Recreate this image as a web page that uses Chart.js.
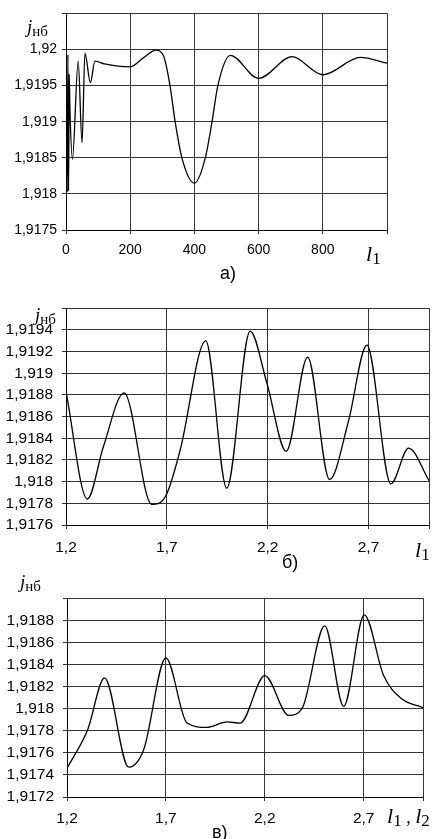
<!DOCTYPE html>
<html>
<head>
<meta charset="utf-8">
<script src="https://cdn.jsdelivr.net/npm/chart.js@4.4.1/dist/chart.umd.min.js"></script>
<style>
  html, body { margin: 0; padding: 0; background: #fff; }
  body { width: 440px; height: 839px; position: relative; overflow: hidden; }
  canvas { position: absolute; left: 0; }
  .lbl { position: absolute; font-family: "Liberation Serif", "Times New Roman", serif; color: #000; line-height: 1; white-space: nowrap; }
  .lbl i { font-size: 19px; }
  .lbl sub { font-size: 15px; vertical-align: baseline; position: relative; top: 3px; }
  .cap { position: absolute; font-family: "Liberation Sans", Arial, sans-serif; font-size: 18px; line-height: 1; color: #000; }
</style>
</head>
<body>
<canvas id="chartA" style="top:0px" width="440" height="262"></canvas>
<canvas id="chartB" style="top:290px" width="440" height="265"></canvas>
<canvas id="chartC" style="top:580px" width="440" height="247"></canvas>

<div class="lbl" style="left:27px; top:17px"><i>j</i><sub>нб</sub></div>
<div class="lbl" style="left:366px; top:243px"><i style="font-size:22px">l</i><sub style="font-size:17px">1</sub></div>
<div class="cap" style="left:220px; top:264px">а)</div>

<div class="lbl" style="left:35px; top:305px"><i>j</i><sub>нб</sub></div>
<div class="lbl" style="left:415px; top:539px"><i style="font-size:22px">l</i><sub style="font-size:17px">1</sub></div>
<div class="cap" style="left:282px; top:553px">б)</div>

<div class="lbl" style="left:20px; top:572px"><i>j</i><sub>нб</sub></div>
<div class="lbl" style="left:387px; top:805px"><i style="font-size:22px">l</i><sub style="font-size:17px">1</sub><span style="font-size:18px"> , </span><i style="font-size:22px">l</i><sub style="font-size:17px">2</sub></div>
<div class="cap" style="left:212px; top:823px">в)</div>

<script>
// a) j_нб against l1, 0..1000
var xA = [2, 4, 6, 8, 10, 12, 20, 38, 50, 59, 76, 90, 120, 200, 240, 280, 304, 324, 340, 361, 400, 434, 455, 473, 512, 600, 704, 800, 917, 1000];
var yA = [1.91857, 1.91803, 1.91993, 1.91804, 1.91966, 1.91922, 1.91848, 1.91984, 1.91871, 1.91995, 1.91954, 1.91984, 1.9198, 1.91976, 1.91988, 1.91999, 1.91991, 1.9195, 1.919, 1.9185, 1.91815, 1.9185, 1.919, 1.9195, 1.91992, 1.9196, 1.9199, 1.91965, 1.91989, 1.91981];
var xTicksA = [0, 200, 400, 600, 800, 1000];
var yTicksA = [1.9175, 1.918, 1.9185, 1.919, 1.9195, 1.92, 1.9205];

// б) j_нб against l1, 1.2..3.0
var xB = [1.2, 1.306, 1.385, 1.488, 1.625, 1.695, 1.766, 1.893, 1.997, 2.113, 2.196, 2.292, 2.398, 2.507, 2.601, 2.692, 2.811, 2.899, 3.0];
var yB = [1.91883, 1.91784, 1.91832, 1.91882, 1.91779, 1.91787, 1.91829, 1.9193, 1.91794, 1.91939, 1.91891, 1.91828, 1.91915, 1.91802, 1.91856, 1.91926, 1.91798, 1.91831, 1.91801];
var xTicksB = [1.2, 1.7, 2.2, 2.7, 3.0];
var yTicksB = [1.9176, 1.9178, 1.918, 1.9182, 1.9184, 1.9186, 1.9188, 1.919, 1.9192, 1.9194, 1.9196];

// в) j_нб against l1, l2
var xC = [1.2, 1.3045, 1.39, 1.512, 1.588, 1.7, 1.807, 1.908, 2.009, 2.076, 2.2, 2.321, 2.388, 2.503, 2.599, 2.703, 2.801, 2.885, 3.0];
var yC = [1.91746, 1.91781, 1.91828, 1.91747, 1.91763, 1.91846, 1.91787, 1.91783, 1.91788, 1.91787, 1.9183, 1.91794, 1.918, 1.91875, 1.91802, 1.91885, 1.9183, 1.9181, 1.91801];
var xTicksC = [1.2, 1.7, 2.2, 2.7, 3.0];
var yTicksC = [1.9172, 1.9174, 1.9176, 1.9178, 1.918, 1.9182, 1.9184, 1.9186, 1.9188, 1.919];

function fmt(v) {
  return String(+v.toFixed(5)).replace(".", ",");
}

function makeChart(id, xs, ys, xTicks, yTicks, o) {
  var points = xs.map(function (x, i) { return { x: x, y: ys[i] }; });
  var grid = { color: "#333", lineWidth: 1, tickLength: 4, drawTicks: true };
  var font = { family: "'Liberation Sans', Arial, sans-serif", size: o.fontSize };
  new Chart(document.getElementById(id), {
    type: "line",
    data: {
      datasets: [{
        data: points,
        borderColor: "#000",
        borderWidth: 1.3,
        pointRadius: 0,
        fill: false,
        cubicInterpolationMode: "monotone",
      }],
    },
    options: {
      responsive: false,
      animation: false,
      layout: { padding: { left: 0, right: o.right, top: o.top, bottom: 0 } },
      plugins: { legend: { display: false }, tooltip: { enabled: false } },
      scales: {
        x: {
          type: "linear",
          min: xTicks[0],
          max: xTicks[xTicks.length - 1],
          afterBuildTicks: function (s) { s.ticks = xTicks.map(function (v) { return { value: v }; }); },
          afterFit: function (s) { s.height = o.xh; },
          grid: grid,
          border: { display: true, color: "#000", width: 1 },
          ticks: {
            color: "#000", font: font, padding: o.xpad, maxRotation: 0, autoSkip: false,
            callback: function (v, i, t) { return i === t.length - 1 ? "" : fmt(v); },
          },
        },
        y: {
          type: "linear",
          min: yTicks[0],
          max: yTicks[yTicks.length - 1],
          afterBuildTicks: function (s) { s.ticks = yTicks.map(function (v) { return { value: v }; }); },
          afterFit: function (s) { s.width = o.yw; },
          grid: grid,
          border: { display: true, color: "#000", width: 1 },
          ticks: {
            color: "#000", font: font, padding: o.ypad, autoSkip: false,
            callback: function (v, i, t) { return i === t.length - 1 ? "" : fmt(v); },
          },
        },
      },
    },
  });
}

makeChart("chartA", xA, yA, xTicksA, yTicksA, { right: 53, top: 12, xh: 32, yw: 66, fontSize: 14, xpad: 8, ypad: 5 });
makeChart("chartB", xB, yB, xTicksB, yTicksB, { right: 11, top: 18, xh: 30, yw: 66, fontSize: 15.5, xpad: 9, ypad: 9 });
makeChart("chartC", xC, yC, xTicksC, yTicksC, { right: 17, top: 17, xh: 30, yw: 67, fontSize: 15.5, xpad: 8, ypad: 9 });
</script>
</body>
</html>
